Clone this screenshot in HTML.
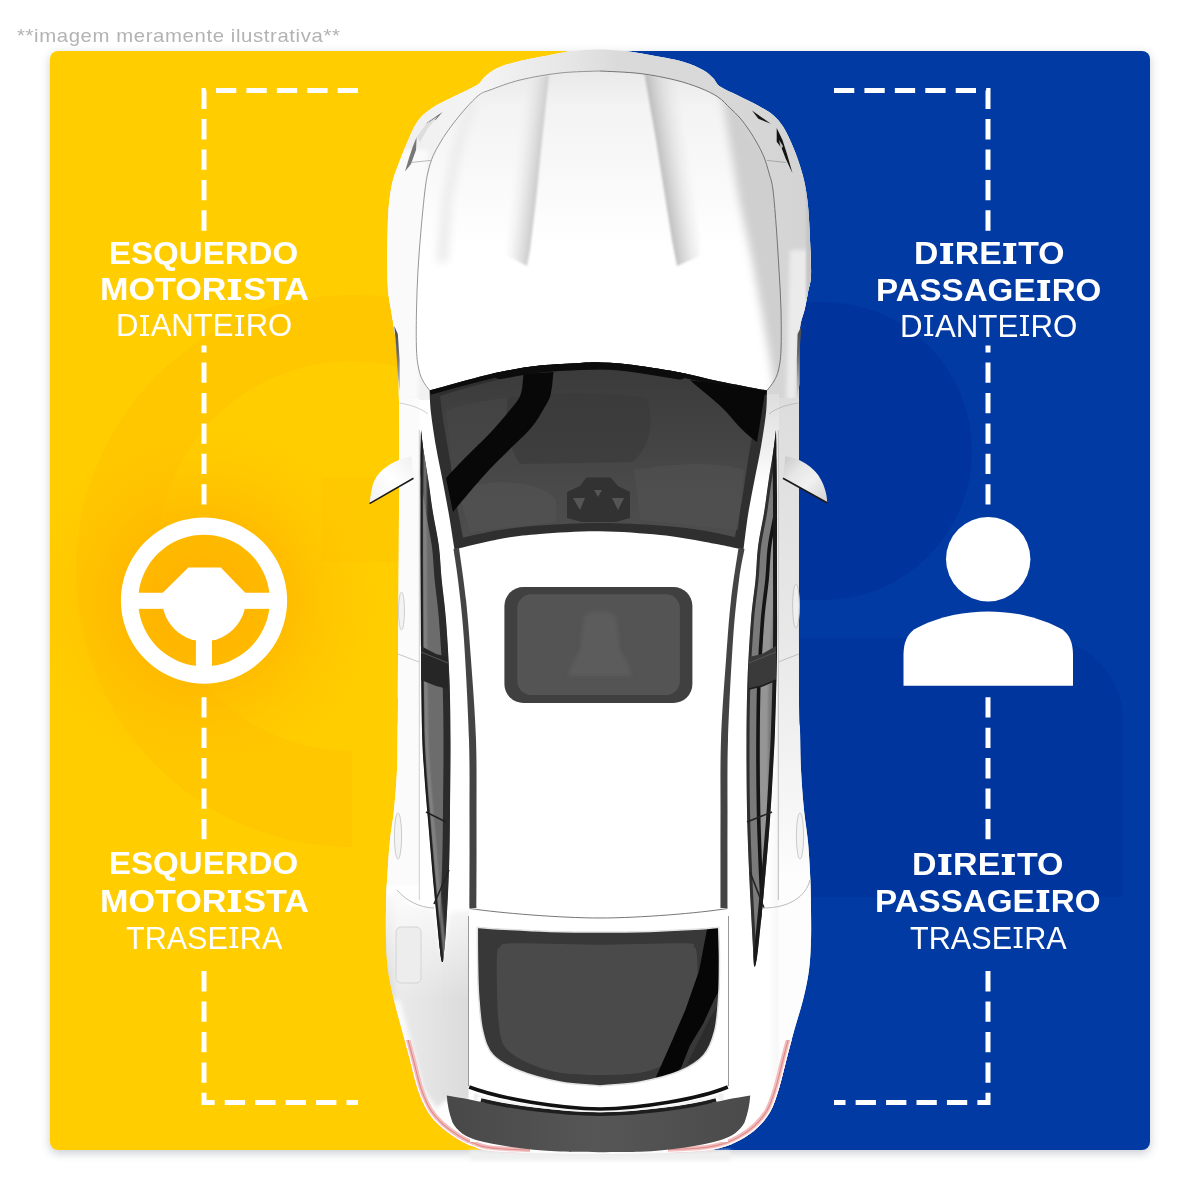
<!DOCTYPE html>
<html lang="pt-BR">
<head>
<meta charset="utf-8">
<title>Lados do veículo</title>
<style>
html,body{margin:0;padding:0;background:#fff;}
body{width:1200px;height:1200px;position:relative;overflow:hidden;font-family:"Liberation Sans",sans-serif;}
#panel{position:absolute;left:50px;top:51px;width:1100px;height:1099px;border-radius:8px;overflow:hidden;
  background:linear-gradient(90deg,#ffcd00 0,#ffcd00 550px,#003aa2 550px,#003aa2 100%);}
#shadow{position:absolute;left:50px;top:51px;width:1100px;height:1099px;border-radius:8px;box-shadow:0 3px 10px rgba(60,70,90,.28);}
#note{position:absolute;left:16.7px;top:23.8px;font-size:19px;line-height:24px;letter-spacing:.57px;color:#b3b3b3;white-space:nowrap;transform-origin:0 0;transform:scale(1.07,1);}
.t{position:absolute;white-space:nowrap;color:#fff;font-size:31px;line-height:30px;transform-origin:0 0;}
.b{font-weight:bold;}
.t i{display:inline-block;overflow:hidden;font-style:normal;color:transparent;line-height:.688em;height:.688em;width:.285em;margin:0 .055em;background:linear-gradient(#fff,#fff) 50% 0/.093em calc(100% - 1px) no-repeat,linear-gradient(#fff,#fff) 0 0/100% .074em no-repeat,linear-gradient(#fff,#fff) 0 100%/100% .074em no-repeat;}
.b i{width:.39em;margin:0 .05em;background:linear-gradient(#fff,#fff) 50% 0/.194em calc(100% - 1px) no-repeat,linear-gradient(#fff,#fff) 0 0/100% .1em no-repeat,linear-gradient(#fff,#fff) 0 100%/100% .1em no-repeat;}
svg{position:absolute;left:0;top:0;}
</style>
</head>
<body>
<div id="shadow"></div>
<div id="panel"></div>
<div id="note">**imagem meramente ilustrativa**</div>
<svg id="art" width="1200" height="1200" viewBox="0 0 1200 1200">
<defs>
<radialGradient id="glowY" cx="204" cy="600" r="175" gradientUnits="userSpaceOnUse"><stop offset="0" stop-color="#ffaa00" stop-opacity=".85"/><stop offset=".45" stop-color="#ffb000" stop-opacity=".62"/><stop offset="1" stop-color="#ffc400" stop-opacity="0"/></radialGradient>
<clipPath id="panelL"><rect x="50" y="51" width="550" height="1099"/></clipPath><clipPath id="panelR"><rect x="600" y="51" width="550" height="1099"/></clipPath>
<clipPath id="dashL"><rect x="190" y="80" width="180" height="153"/><rect x="190" y="345.4" width="30" height="160"/><rect x="190" y="692" width="30" height="148"/><rect x="190" y="966" width="180" height="150"/></clipPath>
<clipPath id="dashR"><rect x="820" y="80" width="180" height="153"/><rect x="970" y="345.4" width="30" height="160"/><rect x="970" y="692" width="30" height="148"/><rect x="820" y="966" width="180" height="150"/></clipPath>
</defs>
<!-- background watermarks -->
<g clip-path="url(#panelL)">
<path d="M400,299A276,276 0 0 0 352,295A276,276 0 0 0 352,847V751A195,195 0 0 1 352,361A195,195 0 0 1 400,367Z" fill="#ffae00" opacity=".2"/>
<path d="M322,477H420V562H322Z" fill="#ffae00" opacity=".14"/>
<circle cx="204" cy="600" r="175" fill="url(#glowY)"/>
</g>
<g clip-path="url(#panelR)">
<path d="M600,302H823A149,149 0 0 1 823,600H600Z" fill="#002f98" opacity=".55"/>
<path d="M600,638H1040A83,83 0 0 1 1123,721V897H600Z" fill="#002f98" opacity=".5"/>
</g>
<!-- dashed guides -->
<path d="M358,90.5H204V1102.5H358" fill="none" stroke="#fff" stroke-width="5" stroke-dasharray="20.3 10.13" clip-path="url(#dashL)"/>
<path d="M834,90.5H988V1102.5H834" fill="none" stroke="#fff" stroke-width="5" stroke-dasharray="20.3 10.13" clip-path="url(#dashR)"/>
<!-- steering wheel -->
<g fill="#fff">
<path fill-rule="evenodd" d="M204,517.5a83.1,83.1 0 1 0 0.01,0ZM204,534.8a65.8,65.8 0 1 1 -0.01,0Z"/>
<rect x="130" y="592.75" width="148" height="16.1"/>
<rect x="195.9" y="625" width="16.1" height="50"/>
<path d="M162.75,592.75L188.4,567.4H220.75L245.25,592.75A41.8,41.8 0 1 1 162.75,592.75Z"/>
</g>
<!-- person -->
<g fill="#fff">
<circle cx="988.2" cy="559.2" r="42.2"/>
<path d="M903.5,685.7V654.5C903.8,642 907,635 914,629.5C925,623 940,618 953.3,615C965,612.6 977,611.4 988.2,611.4C999,611.4 1011,612.6 1023,615C1036,618 1051,623 1062.5,629.5C1069.5,635 1072.7,642 1073,654.5V685.7Z"/>
</g>
</svg>
<svg id="car" width="1200" height="1200" viewBox="0 0 1200 1200">
<!--CAR-->
<defs>
<linearGradient id="gBody" x1="386" x2="811" y1="0" y2="0" gradientUnits="userSpaceOnUse">
<stop offset="0" stop-color="#dcdcdc"/><stop offset=".02" stop-color="#f4f4f4"/><stop offset=".06" stop-color="#fff"/><stop offset=".9" stop-color="#fff"/><stop offset=".96" stop-color="#e9e9e9"/><stop offset="1" stop-color="#cfcfcf"/></linearGradient>
<path id="bodyP" d="M598.0,49.5C606.8,49.5 616.3,50.1 625.0,51.0C633.7,51.9 640.3,53.2 650.0,55.0C659.7,56.8 674.2,59.2 683.0,61.7C691.8,64.2 698.0,67.3 703.0,70.0C708.0,72.7 710.2,75.2 713.0,78.0C715.8,80.8 716.0,83.7 720.0,86.5C724.0,89.3 730.8,91.9 737.0,95.0C743.2,98.1 751.0,101.7 757.0,105.0C763.0,108.3 768.7,111.4 773.0,115.0C777.3,118.6 780.2,122.3 783.0,126.5C785.8,130.7 787.7,134.9 790.0,140.0C792.3,145.1 794.7,150.3 797.0,157.0C799.3,163.7 802.2,171.8 804.0,180.0C805.8,188.2 807.0,196.0 808.0,206.0C809.0,216.0 809.5,228.5 810.0,240.0C810.5,251.5 811.3,266.3 811.0,275.0C810.7,283.7 809.0,286.5 808.0,292.0C807.0,297.5 806.3,302.0 805.0,308.0C803.7,314.0 801.0,319.3 800.0,328.0C799.0,336.7 799.2,348.0 799.0,360.0C798.8,372.0 799.0,375.0 799.0,400.0C799.0,425.0 799.0,460.0 799.0,510.0C799.0,560.0 798.8,663.3 799.0,700.0C799.2,736.7 799.7,718.3 800.0,730.0C800.3,741.7 800.3,756.7 801.0,770.0C801.7,783.3 802.8,798.0 804.0,810.0C805.2,822.0 806.9,830.3 808.0,842.0C809.1,853.7 809.9,868.7 810.4,880.0C810.9,891.3 810.9,900.0 811.0,910.0C811.1,920.0 811.3,930.0 811.0,940.0C810.7,950.0 810.3,960.0 809.0,970.0C807.7,980.0 805.5,990.0 803.0,1000.0C800.5,1010.0 797.1,1020.0 794.3,1030.0C791.5,1040.0 788.9,1050.0 786.3,1060.0C783.7,1070.0 781.2,1081.3 778.5,1090.0C775.8,1098.7 773.6,1105.7 770.0,1112.0C766.4,1118.3 762.0,1123.3 757.0,1128.0C752.0,1132.7 746.2,1136.7 740.0,1140.0C733.8,1143.3 728.3,1146.0 720.0,1148.0C711.7,1150.0 710.0,1151.0 690.0,1152.0C670.0,1153.0 631.7,1154.0 600.0,1154.0C568.3,1154.0 521.3,1153.3 500.0,1152.0C478.7,1150.7 479.3,1148.3 472.0,1146.0C464.7,1143.7 461.3,1141.3 456.0,1138.0C450.7,1134.7 444.7,1130.3 440.0,1126.0C435.3,1121.7 431.7,1118.0 428.0,1112.0C424.3,1106.0 421.0,1098.7 418.0,1090.0C415.0,1081.3 412.7,1070.0 410.0,1060.0C407.3,1050.0 404.7,1040.0 402.0,1030.0C399.3,1020.0 396.3,1010.0 394.0,1000.0C391.7,990.0 389.3,980.0 388.0,970.0C386.7,960.0 386.3,950.0 386.0,940.0C385.7,930.0 385.8,920.0 386.0,910.0C386.2,900.0 386.3,891.7 387.0,880.0C387.7,868.3 388.8,851.7 390.0,840.0C391.2,828.3 392.8,821.7 394.0,810.0C395.2,798.3 396.4,783.3 397.0,770.0C397.6,756.7 397.4,741.7 397.6,730.0C397.8,718.3 397.8,736.7 398.0,700.0C398.2,663.3 398.8,560.0 399.0,510.0C399.2,460.0 399.2,425.0 399.0,400.0C398.8,375.0 398.8,372.0 398.0,360.0C397.2,348.0 395.2,336.3 394.0,328.0C392.8,319.7 392.0,316.3 391.0,310.0C390.0,303.7 388.7,298.0 388.0,290.0C387.3,282.0 387.1,272.0 387.0,262.0C386.9,252.0 387.3,239.7 387.6,230.0C387.9,220.3 388.1,212.3 389.0,204.0C389.9,195.7 390.9,187.8 393.0,180.0C395.1,172.2 399.0,163.2 401.3,157.0C403.6,150.8 404.8,148.1 407.0,143.0C409.2,137.9 411.8,131.2 414.5,126.5C417.2,121.8 419.2,118.6 423.0,115.0C426.8,111.4 431.3,108.3 437.0,105.0C442.7,101.7 450.3,98.3 457.0,95.0C463.7,91.7 472.3,88.0 477.0,85.0C481.7,82.0 481.7,79.5 485.0,76.7C488.3,73.9 491.7,70.8 497.0,68.3C502.3,65.8 508.2,63.9 517.0,61.7C525.8,59.5 540.8,56.8 550.0,55.0C559.2,53.2 564.0,51.9 572.0,51.0C580.0,50.1 589.2,49.5 598.0,49.5Z"/>
<clipPath id="cBody"><use href="#bodyP"/></clipPath>
<filter id="b1" x="-20%" y="-20%" width="140%" height="140%"><feGaussianBlur stdDeviation="1"/></filter>
<filter id="b2" x="-20%" y="-20%" width="140%" height="140%"><feGaussianBlur stdDeviation="2"/></filter>
<filter id="b4" x="-30%" y="-30%" width="160%" height="160%"><feGaussianBlur stdDeviation="4"/></filter>
<clipPath id="cHood"><path d="M600.0,71.0C593.3,71.3 573.3,71.5 560.0,73.0C546.7,74.5 531.7,77.2 520.0,80.0C508.3,82.8 496.8,87.5 490.0,90.0C483.2,92.5 483.0,92.0 479.0,95.0C475.0,98.0 469.8,103.8 466.0,108.0C462.2,112.2 459.2,116.0 456.0,120.0C452.8,124.0 449.7,128.2 447.0,132.0C444.3,135.8 442.3,139.0 440.0,143.0C437.7,147.0 435.0,151.2 433.0,156.0C431.0,160.8 429.3,166.3 428.0,172.0C426.7,177.7 426.2,180.3 425.0,190.0C423.8,199.7 422.2,216.7 421.0,230.0C419.8,243.3 418.8,256.7 418.0,270.0C417.2,283.3 416.8,296.7 416.5,310.0C416.2,323.3 416.1,340.0 416.5,350.0C416.9,360.0 417.9,364.8 419.0,370.0C420.1,375.2 421.2,377.6 423.0,381.0C424.8,384.4 428.5,388.9 429.6,390.5C434.7,389.1 448.3,385.1 460.0,382.0C471.7,378.9 486.7,374.7 500.0,372.0C513.3,369.3 526.7,367.1 540.0,365.6C553.3,364.1 570.0,363.5 580.0,363.0C590.0,362.5 593.3,362.3 600.0,362.4C606.7,362.5 613.3,362.9 620.0,363.5C626.7,364.1 630.0,364.5 640.0,366.0C650.0,367.5 666.7,369.9 680.0,372.5C693.3,375.1 705.5,378.5 720.0,381.5C734.5,384.5 759.2,389.0 767.0,390.5C768.2,388.9 772.1,384.4 774.0,381.0C775.9,377.6 777.3,375.2 778.5,370.0C779.7,364.8 780.6,360.0 781.0,350.0C781.4,340.0 781.3,323.3 781.0,310.0C780.7,296.7 779.8,283.3 779.0,270.0C778.2,256.7 777.5,243.3 776.5,230.0C775.5,216.7 774.2,199.5 773.0,190.0C771.8,180.5 770.5,178.5 769.0,173.0C767.5,167.5 766.0,162.0 764.0,157.0C762.0,152.0 759.5,147.5 757.0,143.0C754.5,138.5 751.8,134.2 749.0,130.0C746.2,125.8 743.2,121.7 740.0,118.0C736.8,114.3 733.7,111.5 730.0,108.0C726.3,104.5 723.0,100.3 718.0,97.0C713.0,93.7 707.2,90.8 700.0,88.0C692.8,85.2 685.0,82.4 675.0,80.0C665.0,77.6 652.5,75.0 640.0,73.5C627.5,72.0 606.7,71.4 600.0,71.0Z"/></clipPath>
<linearGradient id="gFront" x1="400" x2="800" y1="0" y2="0" gradientUnits="userSpaceOnUse">
<stop offset="0" stop-color="#efefef"/><stop offset=".2" stop-color="#f4f4f4"/><stop offset=".42" stop-color="#e6e6e6"/><stop offset=".55" stop-color="#dadada"/><stop offset=".8" stop-color="#d8d8d8"/><stop offset="1" stop-color="#d4d4d4"/></linearGradient>
<linearGradient id="gSideR" x1="0" x2="0" y1="390" y2="880" gradientUnits="userSpaceOnUse"><stop offset="0" stop-color="#dcdcdc"/><stop offset=".5" stop-color="#e8e8e8"/><stop offset=".9" stop-color="#f8f8f8"/><stop offset="1" stop-color="#fdfdfd"/></linearGradient>
<linearGradient id="gAp" x1="0" x2="0" y1="395" y2="485" gradientUnits="userSpaceOnUse"><stop offset="0" stop-color="#dedede"/><stop offset=".5" stop-color="#ececec"/><stop offset="1" stop-color="#fff"/></linearGradient>
<linearGradient id="gHood" x1="0" x2="0" y1="70" y2="250" gradientUnits="userSpaceOnUse">
<stop offset="0" stop-color="#e9e9e9"/><stop offset=".2" stop-color="#f3f3f3"/><stop offset="1" stop-color="#fff"/></linearGradient>
<linearGradient id="gCrR" x1="660" y1="170" x2="692" y2="165" gradientUnits="userSpaceOnUse"><stop offset="0" stop-color="#bdbdbd"/><stop offset=".3" stop-color="#d0d0d0" stop-opacity=".85"/><stop offset="1" stop-color="#e8e8e8" stop-opacity="0"/></linearGradient>
<linearGradient id="gCrL" x1="538" y1="180" x2="512" y2="177" gradientUnits="userSpaceOnUse"><stop offset="0" stop-color="#cbcbcb"/><stop offset=".4" stop-color="#dedede" stop-opacity=".8"/><stop offset="1" stop-color="#f0f0f0" stop-opacity="0"/></linearGradient>
<linearGradient id="gRearL" x1="386" x2="470" y1="0" y2="0" gradientUnits="userSpaceOnUse">
<stop offset="0" stop-color="#d4d4d4"/><stop offset=".15" stop-color="#eaeaea"/><stop offset=".5" stop-color="#e4e4e4"/><stop offset="1" stop-color="#dbdbdb"/></linearGradient>
<clipPath id="cRearL"><rect x="380" y="880" width="88.5" height="290"/></clipPath>
<linearGradient id="gFadeW" x1="0" x2="0" y1="892" y2="1000" gradientUnits="userSpaceOnUse"><stop offset="0" stop-color="#fff" stop-opacity=".85"/><stop offset="1" stop-color="#fff" stop-opacity="0"/></linearGradient>
<clipPath id="cWinL"><path d="M421.0,430.0C420.9,435.0 420.7,448.3 420.6,460.0C420.5,471.7 420.5,483.3 420.5,500.0C420.5,516.7 420.4,535.0 420.5,560.0C420.6,585.0 420.8,621.7 421.0,650.0C421.2,678.3 421.5,710.0 422.0,730.0C422.5,750.0 423.0,755.0 424.0,770.0C425.0,785.0 426.3,800.0 428.0,820.0C429.7,840.0 432.0,868.3 434.0,890.0C436.0,911.7 438.7,938.0 440.0,950.0C441.3,962.0 441.7,960.0 442.0,962.0L443.0,962.0C443.5,956.7 445.0,945.3 446.0,930.0C447.0,914.7 448.3,890.0 449.0,870.0C449.7,850.0 449.8,831.7 450.0,810.0C450.2,788.3 450.6,761.7 450.5,740.0C450.4,718.3 450.2,700.0 449.5,680.0C448.8,660.0 447.3,636.7 446.0,620.0C444.7,603.3 442.9,592.2 441.7,580.0C440.5,567.8 440.4,557.9 439.0,546.7C437.6,535.5 434.8,524.1 433.0,513.0C431.2,501.9 429.9,490.5 428.3,480.0C426.7,469.5 424.7,458.3 423.5,450.0C422.3,441.7 421.4,433.3 421.0,430.0Z"/></clipPath>
<clipPath id="cWinR"><path d="M776.0,430.0C776.1,435.0 776.4,448.3 776.6,460.0C776.8,471.7 776.9,483.3 777.0,500.0C777.1,516.7 777.0,535.0 777.0,560.0C777.0,585.0 777.3,621.7 777.0,650.0C776.7,678.3 775.7,710.0 775.0,730.0C774.3,750.0 773.8,755.0 773.0,770.0C772.2,785.0 771.5,800.0 770.0,820.0C768.5,840.0 766.0,868.3 764.0,890.0C762.0,911.7 759.5,937.2 758.0,950.0C756.5,962.8 755.5,964.2 755.0,967.0L754.0,966.0C753.7,960.0 752.8,946.0 752.0,930.0C751.2,914.0 749.8,890.0 749.0,870.0C748.2,850.0 747.4,831.7 747.0,810.0C746.6,788.3 746.4,761.7 746.5,740.0C746.6,718.3 746.8,700.0 747.5,680.0C748.2,660.0 749.7,636.7 751.0,620.0C752.3,603.3 754.3,592.2 755.5,580.0C756.7,567.8 756.6,557.9 758.0,546.7C759.4,535.5 762.2,524.1 764.0,513.0C765.8,501.9 767.1,490.5 768.7,480.0C770.3,469.5 772.3,458.3 773.5,450.0C774.7,441.7 775.6,433.3 776.0,430.0Z"/></clipPath>
<clipPath id="cWS"><path d="M429.6,390.5C434.7,389.1 448.3,385.1 460.0,382.0C471.7,378.9 486.7,374.7 500.0,372.0C513.3,369.3 526.7,367.1 540.0,365.6C553.3,364.1 570.0,363.5 580.0,363.0C590.0,362.5 593.3,362.3 600.0,362.4C606.7,362.5 613.3,362.9 620.0,363.5C626.7,364.1 630.0,364.5 640.0,366.0C650.0,367.5 666.7,369.9 680.0,372.5C693.3,375.1 705.5,378.5 720.0,381.5C734.5,384.5 759.2,389.0 767.0,390.5C766.8,394.2 767.0,403.6 766.0,413.0C765.0,422.4 762.9,435.5 761.0,446.7C759.1,457.9 756.7,468.6 754.5,480.0C752.3,491.4 749.8,503.4 748.0,515.0C746.2,526.6 744.2,543.8 743.5,549.5C736.2,548.1 713.9,543.4 700.0,541.0C686.1,538.6 676.7,536.6 660.0,535.0C643.3,533.4 620.0,531.5 600.0,531.3C580.0,531.1 556.7,532.7 540.0,534.0C523.3,535.3 514.2,536.4 500.0,539.0C485.8,541.6 462.1,547.8 454.5,549.5C453.6,543.8 451.0,526.6 449.0,515.0C447.0,503.4 444.7,491.4 442.5,480.0C440.3,468.6 437.9,457.9 436.0,446.7C434.1,435.5 432.1,422.4 431.0,413.0C429.9,403.6 429.8,394.2 429.6,390.5Z"/></clipPath>
<linearGradient id="gWS" x1="0" x2="0" y1="370" y2="540" gradientUnits="userSpaceOnUse">
<stop offset="0" stop-color="#3b3b3b"/><stop offset=".45" stop-color="#444"/><stop offset=".7" stop-color="#4a4a4a"/><stop offset="1" stop-color="#4d4d4d"/></linearGradient>
<clipPath id="cRW"><path d="M477.3,927.3C477.3,932.8 477.3,948.4 477.5,960.0C477.7,971.6 477.8,984.9 478.7,996.7C479.6,1008.5 480.3,1021.3 482.7,1031.0C485.1,1040.7 486.8,1048.3 493.0,1055.0C499.2,1061.7 508.8,1066.5 520.0,1071.0C531.2,1075.5 546.7,1079.5 560.0,1082.0C573.3,1084.5 593.3,1085.3 600.0,1086.0C606.7,1085.3 626.7,1084.5 640.0,1082.0C653.3,1079.5 669.3,1075.5 680.0,1071.0C690.7,1066.5 698.2,1061.7 704.0,1055.0C709.8,1048.3 712.2,1040.7 714.7,1031.0C717.2,1021.3 717.9,1008.5 718.7,996.7C719.5,984.9 719.5,971.6 719.5,960.0C719.5,948.4 718.8,932.8 718.7,927.3C713.9,927.7 701.5,928.9 690.0,929.6C678.5,930.3 665.0,931.0 650.0,931.4C635.0,931.8 616.7,932.0 600.0,932.0C583.3,932.0 565.0,931.8 550.0,931.4C535.0,931.0 522.1,930.3 510.0,929.6C497.9,928.9 482.8,927.7 477.3,927.3Z"/></clipPath>
<clipPath id="cTail"><path d="M380,1040H470V1142H530V1165H380ZM820,1040H728V1142H668V1165H820Z"/></clipPath>
<linearGradient id="gSp" x1="446" x2="751" y1="0" y2="0" gradientUnits="userSpaceOnUse">
<stop offset="0" stop-color="#484848"/><stop offset=".5" stop-color="#565656"/><stop offset="1" stop-color="#4a4a4a"/></linearGradient>
<linearGradient id="gMirL" x1="370" x2="413" y1="500" y2="456" gradientUnits="userSpaceOnUse">
<stop offset="0" stop-color="#f2f2f2"/><stop offset=".5" stop-color="#fff"/><stop offset="1" stop-color="#f0f0f0"/></linearGradient>
<linearGradient id="gMirR" x1="785" x2="826" y1="458" y2="498" gradientUnits="userSpaceOnUse">
<stop offset="0" stop-color="#cbcbcb"/><stop offset=".3" stop-color="#e6e6e6"/><stop offset=".6" stop-color="#f1f1f1"/><stop offset="1" stop-color="#d6d6d6"/></linearGradient>
<linearGradient id="gVent" x1="0" x2="0" y1="326" y2="398" gradientUnits="userSpaceOnUse"><stop offset="0" stop-color="#4a4a4a"/><stop offset=".35" stop-color="#666"/><stop offset="1" stop-color="#d0d0d0"/></linearGradient>
</defs>
<use href="#bodyP" fill="url(#gBody)"/>
<g clip-path="url(#cBody)">
<rect x="380" y="40" width="440" height="360" fill="url(#gFront)"/>
<path d="M380,150L428,150L418,400L380,400Z" fill="#fafafa" filter="url(#b2)"/>
<path d="M790,250L812,250L812,320L800,330L796,400L786,400Z" fill="#ebebeb" filter="url(#b2)"/>
<path d="M806,170L812,200L812,300L806,300Z" fill="#c6c6c6" filter="url(#b1)"/>
<rect x="778.5" y="398" width="40" height="760" fill="url(#gSideR)"/>
<path d="M787,400V880" stroke="#f4f4f4" stroke-width="3" fill="none" filter="url(#b1)"/>
<path d="M756,394H779V486H748Z" fill="url(#gAp)"/>
<rect x="380" y="398" width="39" height="520" fill="#fbfbfb"/>
<path d="M410,400V880" stroke="#f1f1f1" stroke-width="3" fill="none" filter="url(#b1)"/>
</g>
<path d="M600.0,71.0C593.3,71.3 573.3,71.5 560.0,73.0C546.7,74.5 531.7,77.2 520.0,80.0C508.3,82.8 496.8,87.5 490.0,90.0C483.2,92.5 483.0,92.0 479.0,95.0C475.0,98.0 469.8,103.8 466.0,108.0C462.2,112.2 459.2,116.0 456.0,120.0C452.8,124.0 449.7,128.2 447.0,132.0C444.3,135.8 442.3,139.0 440.0,143.0C437.7,147.0 435.0,151.2 433.0,156.0C431.0,160.8 429.3,166.3 428.0,172.0C426.7,177.7 426.2,180.3 425.0,190.0C423.8,199.7 422.2,216.7 421.0,230.0C419.8,243.3 418.8,256.7 418.0,270.0C417.2,283.3 416.8,296.7 416.5,310.0C416.2,323.3 416.1,340.0 416.5,350.0C416.9,360.0 417.9,364.8 419.0,370.0C420.1,375.2 421.2,377.6 423.0,381.0C424.8,384.4 428.5,388.9 429.6,390.5C434.7,389.1 448.3,385.1 460.0,382.0C471.7,378.9 486.7,374.7 500.0,372.0C513.3,369.3 526.7,367.1 540.0,365.6C553.3,364.1 570.0,363.5 580.0,363.0C590.0,362.5 593.3,362.3 600.0,362.4C606.7,362.5 613.3,362.9 620.0,363.5C626.7,364.1 630.0,364.5 640.0,366.0C650.0,367.5 666.7,369.9 680.0,372.5C693.3,375.1 705.5,378.5 720.0,381.5C734.5,384.5 759.2,389.0 767.0,390.5C768.2,388.9 772.1,384.4 774.0,381.0C775.9,377.6 777.3,375.2 778.5,370.0C779.7,364.8 780.6,360.0 781.0,350.0C781.4,340.0 781.3,323.3 781.0,310.0C780.7,296.7 779.8,283.3 779.0,270.0C778.2,256.7 777.5,243.3 776.5,230.0C775.5,216.7 774.2,199.5 773.0,190.0C771.8,180.5 770.5,178.5 769.0,173.0C767.5,167.5 766.0,162.0 764.0,157.0C762.0,152.0 759.5,147.5 757.0,143.0C754.5,138.5 751.8,134.2 749.0,130.0C746.2,125.8 743.2,121.7 740.0,118.0C736.8,114.3 733.7,111.5 730.0,108.0C726.3,104.5 723.0,100.3 718.0,97.0C713.0,93.7 707.2,90.8 700.0,88.0C692.8,85.2 685.0,82.4 675.0,80.0C665.0,77.6 652.5,75.0 640.0,73.5C627.5,72.0 606.7,71.4 600.0,71.0Z" fill="url(#gHood)"/>
<g clip-path="url(#cHood)">
<path d="M722,94L729,140L739,200L752,260L763,320L771,365L776,400L800,400L800,90Z" fill="#cfcfcf" filter="url(#b4)"/>
<path d="M700,70L800,70L800,200L770,160L745,120Z" fill="#d9d9d9" filter="url(#b4)"/>
<path d="M644.5,74L656,140L664,190L672,240L677,266L700,256L700,240L696,190L690,140L678,80Z" fill="url(#gCrR)" filter="url(#b1)"/>
<path d="M549,75L542,140L536,200L530,250L527,266L504,254L508,200L514,140L522,82Z" fill="url(#gCrL)" filter="url(#b1)"/>
<path d="M478,98L462,150L452,200L448,262L436,262L442,200L452,150L466,104Z" fill="#ececec" filter="url(#b4)"/>
</g>
<path d="M600.0,71.0C593.3,71.3 573.3,71.5 560.0,73.0C546.7,74.5 531.7,77.2 520.0,80.0C508.3,82.8 496.8,87.5 490.0,90.0C483.2,92.5 483.0,92.0 479.0,95.0C475.0,98.0 469.8,103.8 466.0,108.0C462.2,112.2 459.2,116.0 456.0,120.0C452.8,124.0 449.7,128.2 447.0,132.0C444.3,135.8 442.3,139.0 440.0,143.0C437.7,147.0 435.0,151.2 433.0,156.0C431.0,160.8 429.3,166.3 428.0,172.0C426.7,177.7 426.2,180.3 425.0,190.0C423.8,199.7 422.2,216.7 421.0,230.0C419.8,243.3 418.8,256.7 418.0,270.0C417.2,283.3 416.8,296.7 416.5,310.0C416.2,323.3 416.1,340.0 416.5,350.0C416.9,360.0 417.9,364.8 419.0,370.0C420.1,375.2 421.2,377.6 423.0,381.0C424.8,384.4 428.5,388.9 429.6,390.5" fill="none" stroke="#8a8a8a" stroke-width=".9"/>
<path d="M600.0,71.0C606.7,71.4 627.5,72.0 640.0,73.5C652.5,75.0 665.0,77.6 675.0,80.0C685.0,82.4 692.8,85.2 700.0,88.0C707.2,90.8 713.0,93.7 718.0,97.0C723.0,100.3 726.3,104.5 730.0,108.0C733.7,111.5 736.8,114.3 740.0,118.0C743.2,121.7 746.2,125.8 749.0,130.0C751.8,134.2 754.5,138.5 757.0,143.0C759.5,147.5 762.0,152.0 764.0,157.0C766.0,162.0 767.5,167.5 769.0,173.0C770.5,178.5 771.8,180.5 773.0,190.0C774.2,199.5 775.5,216.7 776.5,230.0C777.5,243.3 778.2,256.7 779.0,270.0C779.8,283.3 780.7,296.7 781.0,310.0C781.3,323.3 781.4,340.0 781.0,350.0C780.6,360.0 779.7,364.8 778.5,370.0C777.3,375.2 775.9,377.6 774.0,381.0C772.1,384.4 768.2,388.9 767.0,390.5" fill="none" stroke="#666" stroke-width=".9"/>
<g clip-path="url(#cBody)"><g clip-path="url(#cRearL)">
<path d="M376,900L397,892L410,906L434,909L442,962L446,935L450,912L480,910L480,1100L446,1100L376,1160Z" fill="url(#gRearL)" filter="url(#b2)"/>
<path d="M392,1000L400,1000L424,1090L440,1112L430,1120L410,1090Z" fill="#fafafa" filter="url(#b2)"/>
<rect x="380" y="885" width="90" height="120" fill="url(#gFadeW)"/>
</g></g>
<g clip-path="url(#cWinL)">
<path d="M421.0,430.0C420.9,435.0 420.7,448.3 420.6,460.0C420.5,471.7 420.5,483.3 420.5,500.0C420.5,516.7 420.4,535.0 420.5,560.0C420.6,585.0 420.8,621.7 421.0,650.0C421.2,678.3 421.5,710.0 422.0,730.0C422.5,750.0 423.0,755.0 424.0,770.0C425.0,785.0 426.3,800.0 428.0,820.0C429.7,840.0 432.0,868.3 434.0,890.0C436.0,911.7 438.7,938.0 440.0,950.0C441.3,962.0 441.7,960.0 442.0,962.0L443.0,962.0C443.5,956.7 445.0,945.3 446.0,930.0C447.0,914.7 448.3,890.0 449.0,870.0C449.7,850.0 449.8,831.7 450.0,810.0C450.2,788.3 450.6,761.7 450.5,740.0C450.4,718.3 450.2,700.0 449.5,680.0C448.8,660.0 447.3,636.7 446.0,620.0C444.7,603.3 442.9,592.2 441.7,580.0C440.5,567.8 440.4,557.9 439.0,546.7C437.6,535.5 434.8,524.1 433.0,513.0C431.2,501.9 429.9,490.5 428.3,480.0C426.7,469.5 424.7,458.3 423.5,450.0C422.3,441.7 421.4,433.3 421.0,430.0Z" fill="#6c6c6c"/>
<path d="M443.0,962.0C443.5,956.7 445.0,945.3 446.0,930.0C447.0,914.7 448.3,890.0 449.0,870.0C449.7,850.0 449.8,831.7 450.0,810.0C450.2,788.3 450.6,761.7 450.5,740.0C450.4,718.3 450.2,700.0 449.5,680.0C448.8,660.0 447.3,636.7 446.0,620.0C444.7,603.3 442.9,592.2 441.7,580.0C440.5,567.8 440.4,557.9 439.0,546.7C437.6,535.5 434.8,524.1 433.0,513.0C431.2,501.9 429.9,490.5 428.3,480.0C426.7,469.5 424.7,458.3 423.5,450.0C422.3,441.7 421.4,433.3 421.0,430.0" fill="none" stroke="#2b2b2b" stroke-width="14"/>
<path d="M421.0,430.0C420.9,435.0 420.7,448.3 420.6,460.0C420.5,471.7 420.5,483.3 420.5,500.0C420.5,516.7 420.4,535.0 420.5,560.0C420.6,585.0 420.8,621.7 421.0,650.0C421.2,678.3 421.5,710.0 422.0,730.0C422.5,750.0 423.0,755.0 424.0,770.0C425.0,785.0 426.3,800.0 428.0,820.0C429.7,840.0 432.0,868.3 434.0,890.0C436.0,911.7 438.7,938.0 440.0,950.0C441.3,962.0 441.7,960.0 442.0,962.0" fill="none" stroke="#1c1c1c" stroke-width="5"/>
<path d="M425.5,430.0C425.4,435.0 425.2,448.3 425.1,460.0C425.0,471.7 425.0,483.3 425.0,500.0C425.0,516.7 424.9,535.0 425.0,560.0C425.1,585.0 425.2,621.7 425.5,650.0C425.8,678.3 426.0,710.0 426.5,730.0C427.0,750.0 427.5,755.0 428.5,770.0C429.5,785.0 430.8,800.0 432.5,820.0C434.2,840.0 436.5,868.3 438.5,890.0C440.5,911.7 443.2,938.0 444.5,950.0C445.8,962.0 446.2,960.0 446.5,962.0" fill="none" stroke="#8a8a8a" stroke-width="2.5" filter="url(#b1)"/>
</g>
<g clip-path="url(#cWinR)">
<path d="M776.0,430.0C776.1,435.0 776.4,448.3 776.6,460.0C776.8,471.7 776.9,483.3 777.0,500.0C777.1,516.7 777.0,535.0 777.0,560.0C777.0,585.0 777.3,621.7 777.0,650.0C776.7,678.3 775.7,710.0 775.0,730.0C774.3,750.0 773.8,755.0 773.0,770.0C772.2,785.0 771.5,800.0 770.0,820.0C768.5,840.0 766.0,868.3 764.0,890.0C762.0,911.7 759.5,937.2 758.0,950.0C756.5,962.8 755.5,964.2 755.0,967.0L754.0,966.0C753.7,960.0 752.8,946.0 752.0,930.0C751.2,914.0 749.8,890.0 749.0,870.0C748.2,850.0 747.4,831.7 747.0,810.0C746.6,788.3 746.4,761.7 746.5,740.0C746.6,718.3 746.8,700.0 747.5,680.0C748.2,660.0 749.7,636.7 751.0,620.0C752.3,603.3 754.3,592.2 755.5,580.0C756.7,567.8 756.6,557.9 758.0,546.7C759.4,535.5 762.2,524.1 764.0,513.0C765.8,501.9 767.1,490.5 768.7,480.0C770.3,469.5 772.3,458.3 773.5,450.0C774.7,441.7 775.6,433.3 776.0,430.0Z" fill="#7a7a7a"/>
<path d="M771.0,966.0C770.7,960.0 769.8,946.0 769.0,930.0C768.2,914.0 766.8,890.0 766.0,870.0C765.2,850.0 764.4,831.7 764.0,810.0C763.6,788.3 763.4,761.7 763.5,740.0C763.6,718.3 763.8,700.0 764.5,680.0C765.2,660.0 766.7,636.7 768.0,620.0C769.3,603.3 771.3,592.2 772.5,580.0C773.7,567.8 773.6,557.9 775.0,546.7C776.4,535.5 779.2,524.1 781.0,513.0C782.8,501.9 784.1,490.5 785.7,480.0C787.3,469.5 789.3,458.3 790.5,450.0C791.7,441.7 792.6,433.3 793.0,430.0" fill="none" stroke="#959595" stroke-width="9" filter="url(#b1)"/>
<path d="M754.0,966.0C753.7,960.0 752.8,946.0 752.0,930.0C751.2,914.0 749.8,890.0 749.0,870.0C748.2,850.0 747.4,831.7 747.0,810.0C746.6,788.3 746.4,761.7 746.5,740.0C746.6,718.3 746.8,700.0 747.5,680.0C748.2,660.0 749.7,636.7 751.0,620.0C752.3,603.3 754.3,592.2 755.5,580.0C756.7,567.8 756.6,557.9 758.0,546.7C759.4,535.5 762.2,524.1 764.0,513.0C765.8,501.9 767.1,490.5 768.7,480.0C770.3,469.5 772.3,458.3 773.5,450.0C774.7,441.7 775.6,433.3 776.0,430.0" fill="none" stroke="#303030" stroke-width="6"/>
<path d="M765.5,966.0C765.2,960.0 764.3,946.0 763.5,930.0C762.7,914.0 761.3,890.0 760.5,870.0C759.7,850.0 758.9,831.7 758.5,810.0C758.1,788.3 757.9,761.7 758.0,740.0C758.1,718.3 758.2,700.0 759.0,680.0C759.8,660.0 761.2,636.7 762.5,620.0C763.8,603.3 765.8,592.2 767.0,580.0C768.2,567.8 768.1,557.9 769.5,546.7C770.9,535.5 773.7,524.1 775.5,513.0C777.3,501.9 778.6,490.5 780.2,480.0C781.8,469.5 783.8,458.3 785.0,450.0C786.2,441.7 787.1,433.3 787.5,430.0" fill="none" stroke="#141414" stroke-width="3.6"/>
<path d="M776.0,430.0C776.1,435.0 776.4,448.3 776.6,460.0C776.8,471.7 776.9,483.3 777.0,500.0C777.1,516.7 777.0,535.0 777.0,560.0C777.0,585.0 777.3,621.7 777.0,650.0C776.7,678.3 775.7,710.0 775.0,730.0C774.3,750.0 773.8,755.0 773.0,770.0C772.2,785.0 771.5,800.0 770.0,820.0C768.5,840.0 766.0,868.3 764.0,890.0C762.0,911.7 759.5,937.2 758.0,950.0C756.5,962.8 755.5,964.2 755.0,967.0" fill="none" stroke="#1a1a1a" stroke-width="8"/>
</g>
<path d="M421,646L436,654L448,657L448,689L436,686L421,680Z" fill="#262626"/>
<path d="M421,652L448,663" stroke="#555" stroke-width="1" fill="none"/>
<path d="M776,646L762,654L749,657L749,689L762,686L776,680Z" fill="#3a3a3a"/>
<path d="M776,680L762,686L749,689" stroke="#1c1c1c" stroke-width="1.4" fill="none"/>
<path d="M776,652L749,663" stroke="#555" stroke-width="1" fill="none"/>
<path d="M426,812L446,822M449,870L434,904" stroke="#222" stroke-width="1.6" fill="none"/>
<path d="M772,812L747,822M750,872L764,908" stroke="#222" stroke-width="1.6" fill="none"/>
<path d="M429.6,390.5C434.7,389.1 448.3,385.1 460.0,382.0C471.7,378.9 486.7,374.7 500.0,372.0C513.3,369.3 526.7,367.1 540.0,365.6C553.3,364.1 570.0,363.5 580.0,363.0C590.0,362.5 593.3,362.3 600.0,362.4C606.7,362.5 613.3,362.9 620.0,363.5C626.7,364.1 630.0,364.5 640.0,366.0C650.0,367.5 666.7,369.9 680.0,372.5C693.3,375.1 705.5,378.5 720.0,381.5C734.5,384.5 759.2,389.0 767.0,390.5C766.8,394.2 767.0,403.6 766.0,413.0C765.0,422.4 762.9,435.5 761.0,446.7C759.1,457.9 756.7,468.6 754.5,480.0C752.3,491.4 749.8,503.4 748.0,515.0C746.2,526.6 744.2,543.8 743.5,549.5C736.2,548.1 713.9,543.4 700.0,541.0C686.1,538.6 676.7,536.6 660.0,535.0C643.3,533.4 620.0,531.5 600.0,531.3C580.0,531.1 556.7,532.7 540.0,534.0C523.3,535.3 514.2,536.4 500.0,539.0C485.8,541.6 462.1,547.8 454.5,549.5C453.6,543.8 451.0,526.6 449.0,515.0C447.0,503.4 444.7,491.4 442.5,480.0C440.3,468.6 437.9,457.9 436.0,446.7C434.1,435.5 432.1,422.4 431.0,413.0C429.9,403.6 429.8,394.2 429.6,390.5Z" fill="#2f2f2f"/>
<g clip-path="url(#cWS)">
<path d="M440.0,396.0C445.0,394.5 458.3,390.1 470.0,387.0C481.7,383.9 496.7,380.0 510.0,377.5C523.3,375.0 535.0,373.3 550.0,372.0C565.0,370.7 583.3,369.4 600.0,369.5C616.7,369.6 635.0,371.1 650.0,372.5C665.0,373.9 676.7,375.6 690.0,378.0C703.3,380.4 718.8,384.0 730.0,387.0C741.2,390.0 752.5,394.5 757.0,396.0C756.5,400.8 755.5,414.3 754.0,425.0C752.5,435.7 750.0,447.5 748.0,460.0C746.0,472.5 744.2,487.2 742.0,500.0C739.8,512.8 736.2,530.8 735.0,537.0C729.2,535.8 712.5,531.9 700.0,530.0C687.5,528.1 676.7,526.7 660.0,525.5C643.3,524.3 620.0,523.0 600.0,523.0C580.0,523.0 556.7,524.3 540.0,525.5C523.3,526.7 512.8,528.0 500.0,530.0C487.2,532.0 469.2,536.2 463.0,537.5C461.8,531.2 458.2,512.9 456.0,500.0C453.8,487.1 452.0,472.5 450.0,460.0C448.0,447.5 445.7,435.7 444.0,425.0C442.3,414.3 440.7,400.8 440.0,396.0Z" fill="url(#gWS)"/>
<path d="M429.6,390.5C434.7,389.1 448.3,385.1 460.0,382.0C471.7,378.9 486.7,374.7 500.0,372.0C513.3,369.3 526.7,367.1 540.0,365.6C553.3,364.1 570.0,363.5 580.0,363.0C590.0,362.5 593.3,362.3 600.0,362.4C606.7,362.5 613.3,362.9 620.0,363.5C626.7,364.1 630.0,364.5 640.0,366.0C650.0,367.5 666.7,369.9 680.0,372.5C693.3,375.1 705.5,378.5 720.0,381.5C734.5,384.5 759.2,389.0 767.0,390.5" fill="none" stroke="#0c0c0c" stroke-width="9"/>
<path d="M500.0,372.0C506.7,370.9 526.7,367.1 540.0,365.6C553.3,364.1 570.0,363.5 580.0,363.0C590.0,362.5 593.3,362.3 600.0,362.4C606.7,362.5 613.3,362.9 620.0,363.5C626.7,364.1 630.0,364.5 640.0,366.0C650.0,367.5 673.3,371.4 680.0,372.5" fill="none" stroke="#0c0c0c" stroke-width="14" stroke-linecap="round"/>
<path d="M508,398C550,392 600,392 646,398C655,420 650,448 632,462L520,464C505,440 505,420 508,398Z" fill="#383838" opacity=".55"/>
<path d="M446,410C470,402 490,400 508,398C505,420 505,440 520,464L470,476L452,462Z" fill="#484848" opacity=".5"/>
<path d="M458,492C480,478 540,478 556,500L556,522L470,532Z" fill="#545454" opacity=".6"/>
<path d="M634,470C680,462 720,462 744,470L738,530L640,520Z" fill="#515151" opacity=".6"/>
<path d="M523.5,374.0C523.0,377.5 522.8,389.0 520.5,395.0C518.2,401.0 514.8,404.0 510.0,410.0C505.2,416.0 498.0,424.5 492.0,431.0C486.0,437.5 479.5,443.5 474.0,449.0C468.5,454.5 463.7,459.2 459.0,464.0C454.3,468.8 448.2,475.7 446.0,478.0L453.0,512.0C455.5,509.0 462.0,501.0 468.0,494.0C474.0,487.0 482.0,477.5 489.0,470.0C496.0,462.5 503.0,456.0 510.0,449.0C517.0,442.0 525.5,434.5 531.0,428.0C536.5,421.5 539.8,415.5 543.0,410.0C546.2,404.5 548.8,401.3 550.5,395.0C552.2,388.7 553.0,375.8 553.5,372.0Z" fill="#080808"/>
<path d="M690,380L765,392L757,442C748,436 738,426 730,416C716,400 700,390 690,380Z" fill="#080808"/>
<path d="M586.5,477.5L610.5,477.5L618,486L630,492L630,518L616,522L582,522L567,518L567,492L580,486Z" fill="#323232"/>
<path d="M573,498L585,498L580,510ZM612,498L624,498L618,510ZM594,490L602,490L598,497Z" fill="#555"/>
</g>
<path d="M459.0,548.0C460.2,556.7 464.0,581.3 466.0,600.0C468.0,618.7 469.3,636.7 471.0,660.0C472.7,683.3 475.1,713.3 476.0,740.0C476.9,766.7 476.4,792.0 476.5,820.0C476.6,848.0 476.5,893.3 476.5,908.0L469.5,908.0C469.5,893.3 469.6,848.0 469.5,820.0C469.4,792.0 469.9,770.0 469.0,740.0C468.1,710.0 465.8,666.7 464.0,640.0C462.2,613.3 459.8,595.2 458.0,580.0C456.2,564.8 454.2,554.2 453.5,549.0Z" fill="#444"/>
<path d="M738.5,548.0C737.2,556.7 733.1,581.3 731.0,600.0C728.9,618.7 727.7,636.7 726.0,660.0C724.3,683.3 721.9,713.3 721.0,740.0C720.1,766.7 720.6,792.0 720.5,820.0C720.4,848.0 720.5,893.3 720.5,908.0L727.5,908.0C727.5,893.3 727.4,848.0 727.5,820.0C727.6,792.0 727.1,770.0 728.0,740.0C728.9,710.0 731.2,666.7 733.0,640.0C734.8,613.3 737.1,595.2 739.0,580.0C740.9,564.8 743.6,554.2 744.5,549.0Z" fill="#444"/>
<path d="M469.5,908.5C500,913 560,918 600,918C640,918 700,913 727.5,908.5" fill="none" stroke="#777" stroke-width="1"/>
<rect x="504.4" y="587" width="188" height="116" rx="19" ry="19" fill="#404040"/>
<rect x="517.3" y="594.3" width="162.6" height="100.8" rx="14" ry="14" fill="#545454"/>
<path d="M584,616C590,610 610,610 616,616L620,650C626,660 630,668 632,676L568,676C570,668 574,660 580,650Z" fill="#5e5e5e" opacity=".8" filter="url(#b2)"/>
<path d="M468.5,916V1086" stroke="#999" stroke-width="1" fill="none"/>
<path d="M728.5,916V1086" stroke="#999" stroke-width="1" fill="none"/>
<path d="M477.3,927.3C477.3,932.8 477.3,948.4 477.5,960.0C477.7,971.6 477.8,984.9 478.7,996.7C479.6,1008.5 480.3,1021.3 482.7,1031.0C485.1,1040.7 486.8,1048.3 493.0,1055.0C499.2,1061.7 508.8,1066.5 520.0,1071.0C531.2,1075.5 546.7,1079.5 560.0,1082.0C573.3,1084.5 593.3,1085.3 600.0,1086.0C606.7,1085.3 626.7,1084.5 640.0,1082.0C653.3,1079.5 669.3,1075.5 680.0,1071.0C690.7,1066.5 698.2,1061.7 704.0,1055.0C709.8,1048.3 712.2,1040.7 714.7,1031.0C717.2,1021.3 717.9,1008.5 718.7,996.7C719.5,984.9 719.5,971.6 719.5,960.0C719.5,948.4 718.8,932.8 718.7,927.3C713.9,927.7 701.5,928.9 690.0,929.6C678.5,930.3 665.0,931.0 650.0,931.4C635.0,931.8 616.7,932.0 600.0,932.0C583.3,932.0 565.0,931.8 550.0,931.4C535.0,931.0 522.1,930.3 510.0,929.6C497.9,928.9 482.8,927.7 477.3,927.3Z" fill="#383838"/>
<g clip-path="url(#cRW)">
<path d="M497.0,956.0C497.5,948.8 497.2,949.1 500.0,947.0C502.8,944.9 497.3,943.7 514.0,943.3C530.7,942.9 571.7,944.7 600.0,944.7C628.3,944.7 668.3,942.9 684.0,943.3C699.7,943.7 691.8,944.9 694.0,947.0C696.2,949.1 696.4,948.8 697.0,956.0C697.6,963.2 698.0,978.8 697.5,990.0C697.0,1001.2 695.6,1013.5 694.0,1023.0C692.4,1032.5 692.3,1040.3 688.0,1047.0C683.7,1053.7 676.0,1058.7 668.0,1063.0C660.0,1067.3 651.3,1070.7 640.0,1072.7C628.7,1074.7 613.3,1075.0 600.0,1075.0C586.7,1075.0 572.0,1074.7 560.0,1072.7C548.0,1070.7 537.2,1067.3 528.0,1063.0C518.8,1058.7 509.9,1053.7 505.0,1047.0C500.1,1040.3 500.0,1032.5 498.7,1023.0C497.4,1013.5 497.3,1001.2 497.0,990.0C496.7,978.8 496.5,963.2 497.0,956.0Z" fill="#4a4a4a"/>
<path d="M708,924L699,971L685.5,1009.5L672,1041L652,1086L668,1080L681,1068L690,1045.5L703.5,1023L714,1000L722,985L722,924Z" fill="#060606"/>
<path d="M722,1000L711,1016L697,1044L686,1066L700,1058L712,1040L722,1010Z" fill="#2c2c2c"/>
</g>
<path d="M477.3,927.3C477.3,932.8 477.3,948.4 477.5,960.0C477.7,971.6 477.8,984.9 478.7,996.7C479.6,1008.5 480.3,1021.3 482.7,1031.0C485.1,1040.7 486.8,1048.3 493.0,1055.0C499.2,1061.7 508.8,1066.5 520.0,1071.0C531.2,1075.5 546.7,1079.5 560.0,1082.0C573.3,1084.5 593.3,1085.3 600.0,1086.0C606.7,1085.3 626.7,1084.5 640.0,1082.0C653.3,1079.5 669.3,1075.5 680.0,1071.0C690.7,1066.5 698.2,1061.7 704.0,1055.0C709.8,1048.3 712.2,1040.7 714.7,1031.0C717.2,1021.3 717.9,1008.5 718.7,996.7C719.5,984.9 719.5,971.6 719.5,960.0C719.5,948.4 718.8,932.8 718.7,927.3C713.9,927.7 701.5,928.9 690.0,929.6C678.5,930.3 665.0,931.0 650.0,931.4C635.0,931.8 616.7,932.0 600.0,932.0C583.3,932.0 565.0,931.8 550.0,931.4C535.0,931.0 522.1,930.3 510.0,929.6C497.9,928.9 482.8,927.7 477.3,927.3Z" fill="none" stroke="#e2e2e2" stroke-width="1.5"/>
<g clip-path="url(#cBody)"><g clip-path="url(#cTail)">
<use href="#bodyP" fill="none" stroke="#f2bcbc" stroke-width="11.5"/>
<use href="#bodyP" fill="none" stroke="#e08585" stroke-width="7.6"/>
<use href="#bodyP" fill="none" stroke="#f2bcbc" stroke-width="5.6"/>
<use href="#bodyP" fill="none" stroke="#fff" stroke-width="2.6"/>
</g></g>
<path d="M470,1150C520,1156 680,1156 730,1150L730,1160L470,1160Z" fill="#efefef" filter="url(#b2)"/>
<path d="M446.75,1095.5C455,1097 462,1098 468.5,1099.25C500,1106 550,1113.5 600,1114.5C650,1113.5 700,1106 728.5,1099.25C735,1098 742,1097 750.25,1095.5C749.5,1105 748,1113 744.5,1122.5C740,1131 732,1136.5 721,1140C700,1146 670,1150.5 640,1151.8C620,1152.3 580,1152.3 560,1151.5C530,1150.5 500,1146 476,1140C465,1136.5 457,1131 452.5,1122.5C449,1113 447.5,1105 446.75,1095.5Z" fill="url(#gSp)"/>
<path d="M481,1100C510,1107.5 560,1113.7 600,1114.2C640,1113.7 690,1107.5 716,1100" fill="none" stroke="#1e1e1e" stroke-width="3.8"/>
<path d="M475,1095C505,1103.5 560,1111 600,1111.3C640,1111 695,1103.5 722,1095" fill="none" stroke="#f4f4f4" stroke-width="2"/>
<path d="M473.5,1093.5h4.5v6.5h-4.5zM719,1093.5h4.5v6.5h-4.5z" fill="#f0f0f0"/>
<path d="M469.2,1087C500,1098.7 560,1108.5 600,1109C640,1108.5 700,1098.7 727.8,1087" fill="none" stroke="#111" stroke-width="3.6"/>
<path d="M411.3,456.3C409.2,456.9 402.8,458.3 398.7,460.0C394.6,461.7 390.1,464.2 386.7,466.7C383.2,469.1 380.2,471.9 378.0,474.7C375.8,477.5 374.5,480.2 373.3,483.3C372.1,486.4 371.6,490.0 371.0,493.3C370.4,496.6 369.9,501.6 369.7,503.3L413.3,478Z" fill="url(#gMirL)"/>
<path d="M369.5,503.6L413.5,478.3" stroke="#1a1a1a" stroke-width="1.6" fill="none"/>
<path d="M785.3,456.3C787.3,456.8 793.5,457.8 797.3,459.3C801.1,460.8 804.8,463.0 808.0,465.3C811.2,467.6 814.2,470.3 816.7,473.3C819.2,476.3 821.2,480.0 822.7,483.3C824.2,486.6 825.2,490.1 826.0,493.3C826.8,496.5 827.1,501.1 827.3,502.7L783.3,478Z" fill="url(#gMirR)"/>
<path d="M827.5,503L783,478.3" stroke="#1a1a1a" stroke-width="1.8" fill="none"/>
<path d="M425.8,123.5L442.5,112L436,119.5Z" fill="#666"/>
<path d="M405,171.5L409,158L413,146L416.7,137L416,150L411,164Z" fill="#777"/>
<path d="M416.7,137L426,124L438,116L428,128L420,142Z" fill="#ddd"/>
<path d="M410.8,162.5L430.8,160.4" stroke="#aaa" stroke-width=".8" fill="none"/>
<path d="M752,110.4L770.8,123.75L758.3,118.75Z" fill="#161616"/>
<path d="M776.7,128L782.5,140L787,154L792.5,173.3L785.8,159L781.7,148.3L776.7,141.7Z" fill="#141414"/>
<path d="M779,140L783,146L781,150Z" fill="#bbb"/>
<path d="M767,160.4L785.8,162.5" stroke="#999" stroke-width=".8" fill="none"/>
<path d="M394.3,326L397.8,334L399.6,360L399.8,392L397.6,372L396,345Z" fill="url(#gVent)"/>
<path d="M801.5,326L797.6,334L796.8,360L796.8,398L799.6,384L800,345Z" fill="url(#gVent)"/>
<path d="M419.3,430V900" stroke="#cfcfcf" stroke-width="1" fill="none"/>
<path d="M778.3,430V900" stroke="#bdbdbd" stroke-width="1" fill="none"/>
<path d="M398,654L419,662" stroke="#c9c9c9" stroke-width="1" fill="none"/>
<path d="M799,654L778,662" stroke="#c0c0c0" stroke-width="1" fill="none"/>
<path d="M399.5,403C412,405 422,409 428,414" stroke="#cfcfcf" stroke-width="1" fill="none"/>
<path d="M798.5,403C785,405 775,409 769,414" stroke="#bdbdbd" stroke-width="1" fill="none"/>
<ellipse cx="401.5" cy="611" rx="3" ry="19" fill="#f3f3f3" stroke="#cfcfcf" stroke-width="1"/>
<ellipse cx="796" cy="606" rx="3.4" ry="22" fill="#efefef" stroke="#c6c6c6" stroke-width="1"/>
<ellipse cx="398" cy="836" rx="3.6" ry="23" fill="#f3f3f3" stroke="#cbcbcb" stroke-width="1"/>
<ellipse cx="800" cy="836" rx="3.6" ry="23" fill="#f3f3f3" stroke="#cbcbcb" stroke-width="1"/>
<path d="M397,890C405,900 420,908 434,908" stroke="#bbb" stroke-width="1" fill="none"/>
<path d="M810,880C806,896 790,908 763,908" stroke="#bbb" stroke-width="1" fill="none"/>
<rect x="396" y="927" width="25" height="56" rx="5" fill="#ededed" stroke="#d4d4d4" stroke-width="1"/>
<!--/CAR-->
</svg>
<!--TEXT-->
<div class="t b" style="left:109.47px;top:238.55px;transform:scale(1.0657,1)">ESQUERDO</div>
<div class="t b" style="left:99.60px;top:275.45px;transform:scale(1.1015,1)">MOTOR<i>I</i>STA</div>
<div class="t" style="left:116.30px;top:311.45px;transform:scale(1.0012,1)">D<i>I</i>ANTE<i>I</i>RO</div>
<div class="t b" style="left:109.47px;top:849.45px;transform:scale(1.0657,1)">ESQUERDO</div>
<div class="t b" style="left:99.60px;top:886.65px;transform:scale(1.1015,1)">MOTOR<i>I</i>STA</div>
<div class="t" style="left:125.51px;top:923.70px;transform:scale(0.9848,1)">TRASE<i>I</i>RA</div>
<div class="t b" style="left:913.52px;top:238.95px;transform:scale(1.0881,1)">D<i>I</i>RE<i>I</i>TO</div>
<div class="t b" style="left:875.86px;top:275.95px;transform:scale(1.0681,1)">PASSAGE<i>I</i>RO</div>
<div class="t" style="left:899.73px;top:311.55px;transform:scale(1.0078,1)">D<i>I</i>ANTE<i>I</i>RO</div>
<div class="t b" style="left:912.31px;top:849.95px;transform:scale(1.0948,1)">D<i>I</i>RE<i>I</i>TO</div>
<div class="t b" style="left:875.36px;top:886.70px;transform:scale(1.0691,1)">PASSAGE<i>I</i>RO</div>
<div class="t" style="left:909.76px;top:923.70px;transform:scale(0.9873,1)">TRASE<i>I</i>RA</div>
<!--/TEXT-->
</body>
</html>
